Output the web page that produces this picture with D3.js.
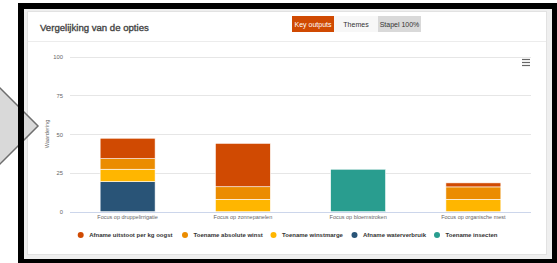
<!DOCTYPE html>
<html><head><meta charset="utf-8">
<script src="https://cdn.jsdelivr.net/npm/d3@7"></script>
<style>
html,body{margin:0;padding:0;background:#fff;}
svg{display:block;font-family:"Liberation Sans",Arial,Helvetica,sans-serif;}
</style></head>
<body>
<svg id="c" width="557" height="263"></svg>
<script>
const categories = ["Focus op druppelirrigatie","Focus op zonnepanelen","Focus op bloemstroken","Focus op organische mest"];
const seriesNames = ["Afname uitstoot per kg oogst","Toename absolute winst","Toename winstmarge","Afname waterverbruik","Toename insecten"];
const seriesColors = ["#D04A02","#EB8C00","#FFB600","#295477","#299D8F"];
const afnameUitstoot = [13.2, 28, 0, 2.6];
const toenameAbsoluteWinst = [6.8, 8.1, 0, 8];
const toenameWinstmarge = [8, 8, 0, 8];
const afnameWaterverbruik = [19.4, 0, 0, 0];
const toenameInsecten = [0, 0, 27.4, 0];
const yTicks = [0, 25, 50, 75, 100];
const buttons = ["Key outputs","Themes","Stapel 100%"];

const seriesValues = [afnameUitstoot, toenameAbsoluteWinst, toenameWinstmarge, afnameWaterverbruik, toenameInsecten];

const svg = d3.select("#c");

// outer background & card
svg.append("rect").attr("x",18).attr("y",3).attr("width",545).attr("height",265).attr("fill","#efefef");
svg.append("rect").attr("x",27.5).attr("y",11.5).attr("width",519).attr("height",243).attr("fill","#fff").attr("stroke","#e2e2e2").attr("stroke-width",1);
svg.append("line").attr("x1",28).attr("x2",546).attr("y1",41.5).attr("y2",41.5).attr("stroke","#ececec");

// title
svg.append("text").attr("x",40).attr("y",30.5).attr("font-size",9.6).attr("fill","#444")
  .attr("stroke","#444").attr("stroke-width",0.35).text("Vergelijking van de opties");

// buttons
const btnX = [292, 334, 378, 421];
const btnFill = ["#D04A02","#f7f7f7","#d9d9d9"];
const btnText = ["#fff","#333","#333"];
buttons.forEach((b,i)=>{
  svg.append("rect").attr("x",btnX[i]).attr("y",16).attr("width",btnX[i+1]-btnX[i]).attr("height",16).attr("fill",btnFill[i]);
  svg.append("text").attr("x",(btnX[i]+btnX[i+1])/2).attr("y",26.5).attr("text-anchor","middle").attr("font-size",7).attr("fill",btnText[i]).text(b);
});

// hamburger
[59.5,62.5,65.5].forEach(y=>svg.append("line").attr("x1",522).attr("x2",530).attr("y1",y).attr("y2",y).attr("stroke","#666").attr("stroke-width",1.2));

// scales
const x = d3.scaleBand().domain(categories).range([70,531]).paddingInner(0.523).paddingOuter(0.2615);
const y = d3.scaleLinear().domain([0,100]).range([211.7,56.7]);

// gridlines
const g = svg.append("g");
yTicks.forEach(t=>{
  g.append("line").attr("x1",70).attr("x2",531).attr("y1",Math.round(y(t))+0.5).attr("y2",Math.round(y(t))+0.5)
   .attr("stroke", t===0 ? "#ccd6eb" : "#e6e6e6").attr("stroke-width",1);
});
const yAxis = d3.axisLeft(y).tickValues(yTicks).tickSize(0).tickPadding(0);
const ya = svg.append("g").attr("transform","translate(63,0)").call(yAxis);
ya.select(".domain").remove();
ya.selectAll("text").attr("font-size",5.8).attr("fill","#666").attr("font-family","Liberation Sans,Arial,sans-serif");

svg.append("text").attr("transform","translate(49,134) rotate(-90)").attr("text-anchor","middle")
  .attr("font-size",5.6).attr("fill","#666").text("Waardering");

// stacked data
const table = categories.map((c,i)=>{
  const o = {cat:c};
  seriesNames.forEach((s,j)=>o[s]=seriesValues[j][i]);
  return o;
});
const keysBottomUp = seriesNames.slice().reverse();
const stack = d3.stack().keys(keysBottomUp)(table);
const color = d3.scaleOrdinal().domain(seriesNames).range(seriesColors);

stack.forEach(layer=>{
  svg.append("g").attr("fill",color(layer.key)).selectAll("rect")
    .data(layer.filter(d=>d[1]-d[0]>0)).join("rect")
    .attr("x",d=>x(d.data.cat))
    .attr("width",x.bandwidth())
    .attr("y",d=>y(d[1]))
    .attr("height",d=>y(d[0])-y(d[1]))
    .attr("stroke","#fff").attr("stroke-width",0.6);
});

// x axis labels
const xAxis = d3.axisBottom(x).tickSize(0).tickPadding(0);
const xa = svg.append("g").attr("transform","translate(0,215)").call(xAxis);
xa.select(".domain").remove();
xa.selectAll("text").attr("font-size",5.5).attr("fill","#666").attr("font-family","Liberation Sans,Arial,sans-serif");

// legend
const legX = [80.7, 185, 273.5, 354.5, 437];
const lg = svg.append("g");
seriesNames.forEach((s,i)=>{
  lg.append("circle").attr("cx",legX[i]).attr("cy",235).attr("r",3).attr("fill",seriesColors[i]);
  lg.append("text").attr("x",legX[i]+8.5).attr("y",237.2).attr("font-size",6).attr("font-weight","bold").attr("fill","#333").text(s);
});

// arrow
svg.append("path").attr("d","M-3,85 L38,126 L-3,167 Z").attr("fill","#d9d9d9").attr("stroke","#6e6e6e").attr("stroke-width",1.5);

// black frame
svg.append("rect").attr("x",21).attr("y",6).attr("width",534).attr("height",256).attr("fill","none").attr("stroke","#000").attr("stroke-width",6);
</script>
</body></html>
